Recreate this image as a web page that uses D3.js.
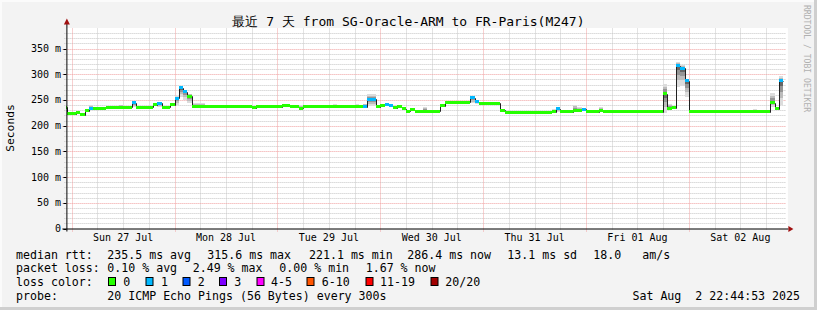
<!DOCTYPE html>
<html><head><meta charset="utf-8">
<script src="https://cdn.jsdelivr.net/npm/d3@7"></script>
<style>
body{margin:0;background:#f3f3f3}
svg{display:block}
text{font-family:"DejaVu Sans Mono",monospace;white-space:pre}
</style>
</head><body>
<svg id="c" width="817" height="310"></svg>
<script>
// ---- data (hours since 2025-07-27 00:00) ----
const chartStart = -1.2481;   // Sat Jul 26 22:44:53
const chartEnd = 166.7519;    // Sat Aug 2 22:44:53
const dataEnd = 166;
const segStart  = [-1.2481,-1,1,2,3,4,5,8,11,12,14,15,19,20,21,23,24,25,26,27,28,31,34,35,42,43,49,51,53,54,55,61,62,66,67,68,69,71,72,73,74,75,76,77,78,79,80,82,83,86,87,91,93,94,95,97,100,101,112,113,114,117,118,119,120,121,123,124,138,139,140,141,142,143,144,147,149,159,160,163,164,165];
const segMedian = [236,223,225,221,229,234,234,236,236,236,245,236,240.5,244,236,240.5,253,274,266,257.5,237,237,237,237,235,237,240,236.5,234,236.5,236.5,236.5,236.5,236.5,236.5,237,251.5,237,240,241,238.5,234.6,236.5,233.4,228.2,230.8,228.2,228.2,228.2,238.5,244.4,245.7,254,247,242.4,243.8,230,226.5,227,233.4,226.9,230.2,230,231.5,228.2,226.9,230,226.9,262,234,234.6,316.4,312,287.5,226.9,226.9,226.9,227,226.9,245,233.4,287];
const segLoss   = [0,0,0,0,0,1,0,0,0,0,1,0,0,1,0,0,1,1,1,0,0,0,0,0,0,0,0,0,0,0,0,0,0,0,0,1,1,0,0,1,1,0,0,0,0,0,0,0,0,0,0,0,1,1,0,0,0,0,0,1,0,0,0,1,0,0,0,0,0,0,0,1,1,1,0,0,0,0,0,0,0,1];
const segSmokeLo= [236,222,224,220,228,232,233,235,235,235,236,235,239,236,235,239,241,255,250,245,236,236,236,236,234,236,238,236,233,236,236,236,236,236,236,236,238,235,239,239,237,233,235,232,227,230,227,227,227,238,244,245,244,243,242,243,229,226,226,227,226,229,229,229,227,226,229,226,225,230,234,276,278,256,226,226,226,226,226,237,231,240];
const segSmokeHi= [236,225,226,223,231,241,235,237,241,237,246,237,242,245,237,242,258,277,270,262,244,238,241,238,236,238,243,238,241,241,237,243,237,243,237,243,261,240,241,242,240,241,240,234,229,232,229,237,229,239,245,246,258,249,243,244,231,227,233,234,227,241,236,233,229,227,236.6,227,282,243,235,324,318,290,227,229,227,233,227,263,236,296];

const yTicks = [0,50,100,150,200,250,300,350];
const yTickLabels = ["0","50 m","100 m","150 m","200 m","250 m","300 m","350 m"];
const dayMidnights = [0,24,48,72,96,120,144];
const dayLabels = ["Sun 27 Jul","Mon 28 Jul","Tue 29 Jul","Wed 30 Jul","Thu 31 Jul","Fri 01 Aug","Sat 02 Aug"];
const lossLegend = ["0","1","2","3","4-5","6-10","11-19","20/20"];
const lossColors = ["#26ff00","#00b8ff","#0059ff","#7e00ff","#ff00ff","#ff5500","#ff0000","#a10000"];
const rttStats = ["235.5 ms avg","315.6 ms max","221.1 ms min","286.4 ms now","13.1 ms sd","18.0","am/s"];
const lossStats = ["0.10 % avg","2.49 % max","0.00 % min","1.67 % now"];
const titleText = "最近 7 天 from SG-Oracle-ARM to FR-Paris(M247)";
const probeText = "20 ICMP Echo Pings (56 Bytes) every 300s";
const stampText = "Sat Aug  2 22:44:53 2025";

// ---- layout ----
const svg = d3.select("#c");
const X0 = 66.4, X1 = 786.4, YB = 228.5, YT = 28.5;
const x = d3.scaleLinear().domain([chartStart, chartEnd]).range([X0, X1]);
const y = d3.scaleLinear().domain([0, 389]).range([YB, YT]);

function lossIdx(l){ if(l<=3) return l; if(l<=5) return 4; if(l<=10) return 5; if(l<=19) return 6; return 7; }

// background + frame
svg.append("rect").attr("width",817).attr("height",310).attr("fill","#f3f3f3");
svg.append("rect").attr("x",0).attr("y",0).attr("width",817).attr("height",2).attr("fill","#fbfbfb");
svg.append("rect").attr("x",0).attr("y",0).attr("width",2).attr("height",310).attr("fill","#fbfbfb");
svg.append("rect").attr("x",814).attr("y",0).attr("width",3).attr("height",310).attr("fill","#cfcfcf");
svg.append("rect").attr("x",0).attr("y",307).attr("width",817).attr("height",3).attr("fill","#cfcfcf");
svg.append("rect").attr("x",X0).attr("y",YT-0.5).attr("width",X1-X0+1.5).attr("height",YB-YT+0.5).attr("fill","#ffffff");

// grid
const g = svg.append("g");
const minorY = d3.range(10, 390, 10).filter(v => v % 50 !== 0);
g.selectAll(".hmin").data(minorY).enter().append("line")
  .attr("x1",X0-2).attr("x2",X1).attr("y1",d=>Math.round(y(d))+0.5).attr("y2",d=>Math.round(y(d))+0.5)
  .attr("stroke","#c6c6c6").attr("stroke-dasharray","1,1");
const minorX = d3.range(-0, 167, 6).filter(h => h % 24 !== 0);
g.selectAll(".vmin").data(minorX).enter().append("line")
  .attr("x1",d=>Math.round(x(d))+0.5).attr("x2",d=>Math.round(x(d))+0.5).attr("y1",YT).attr("y2",YB+2)
  .attr("stroke","#c6c6c6").attr("stroke-dasharray","1,1");
g.selectAll(".hmaj").data(yTicks.slice(1)).enter().append("line")
  .attr("x1",X0-4).attr("x2",X1).attr("y1",d=>Math.round(y(d))+0.5).attr("y2",d=>Math.round(y(d))+0.5)
  .attr("stroke","#f0a0a0").attr("stroke-dasharray","1,1");
g.selectAll(".vmaj").data(dayMidnights).enter().append("line")
  .attr("x1",d=>Math.round(x(d))+0.5).attr("x2",d=>Math.round(x(d))+0.5).attr("y1",YT).attr("y2",YB+3)
  .attr("stroke","#f0a0a0").attr("stroke-dasharray","1,1");

// data
const segs = segStart.map((s,i)=>({s, e: i<segStart.length-1 ? segStart[i+1] : dataEnd,
  m: segMedian[i], l: segLoss[i], lo: segSmokeLo[i], hi: segSmokeHi[i]}));
const dg = svg.append("g");
const layers = [{f:0,c:"#dcdcdc"},{f:0.3,c:"#bcbcbc"},{f:0.55,c:"#959595"},{f:0.8,c:"#666666"}];
layers.forEach(L=>{
  dg.selectAll(null).data(segs.filter(d=>d.hi-d.lo>0)).enter().append("rect")
    .attr("x",d=>x(d.s)).attr("width",d=>x(d.e)-x(d.s))
    .attr("y",d=>y(d.hi-(d.hi-d.m)*L.f))
    .attr("height",d=>Math.max(0,y(d.lo+(d.m-d.lo)*L.f)-y(d.hi-(d.hi-d.m)*L.f)))
    .attr("fill",L.c).attr("shape-rendering","crispEdges");
});
const pts = segs.map(d=>[d.s,d.m]); pts.push([dataEnd, segs[segs.length-1].m]);
dg.append("path").attr("d", d3.line().x(d=>Math.round(x(d[0]))+0.5).y(d=>Math.round(y(d[1]))+0.5).curve(d3.curveStepAfter)(pts))
  .attr("fill","none").attr("stroke","#202020").attr("stroke-width",1);
dg.selectAll(null).data(segs).enter().append("rect")
  .attr("x",d=>x(d.s)).attr("width",d=>x(d.e)-x(d.s))
  .attr("y",d=>y(d.m)-1.5).attr("height",3)
  .attr("fill",d=>lossColors[lossIdx(d.l)]).attr("shape-rendering","crispEdges");

// axes
svg.append("line").attr("x1",X0-4).attr("x2",X1+2).attr("y1",YB+0.5).attr("y2",YB+0.5).attr("stroke","#000");
svg.append("line").attr("x1",X0+0.5).attr("x2",X0+0.5).attr("y1",YB+3).attr("y2",YT-6).attr("stroke","#000");
svg.append("path").attr("d",`M${X1+2},${YB-2.5}L${X1+7},${YB+0.5}L${X1+2},${YB+3.5}Z`).attr("fill","#a01010");
svg.append("path").attr("d",`M${X0-2.5},${YT-4}L${X0+0.5},${YT-10}L${X0+3.5},${YT-4}Z`).attr("fill","#a01010");
svg.selectAll(".ytick").data(yTicks).enter().append("line")
  .attr("x1",X0-3).attr("x2",X0).attr("y1",d=>Math.round(y(d))+0.5).attr("y2",d=>Math.round(y(d))+0.5).attr("stroke","#000");

svg.selectAll(".ylab").data(yTicks).enter().append("text")
  .attr("x",61).attr("y",d=>y(d)+3.5).attr("text-anchor","end").attr("font-size","10px").attr("fill","#000")
  .text((d,i)=>yTickLabels[i]);
svg.selectAll(".xlab").data(dayMidnights).enter().append("text")
  .attr("x",d=>x(d+12)).attr("y",241).attr("text-anchor","middle").attr("font-size","10px").attr("fill","#000")
  .text((d,i)=>dayLabels[i]);

// titles
svg.append("text").attr("x",408.5).attr("y",25.5).attr("text-anchor","middle").attr("font-size","13px").attr("fill","#000").text(titleText);
svg.append("text").attr("transform","translate(14,128) rotate(-90)").attr("text-anchor","middle").attr("font-size","11.3px").attr("fill","#000").text("Seconds");
svg.append("text").attr("transform","translate(804,5) rotate(90)").attr("text-anchor","start").attr("font-size","8.1px").attr("fill","#b0b0b0").text("RRDTOOL / TOBI OETIKER");

// legend
const fs = "11.6px";
const lg = svg.append("g").attr("font-size",fs).attr("fill","#000");
const rttX = [107.3,207.3,309,407.3,507.3,593.3,642.3];
lg.append("text").attr("x",16).attr("y",258.5).text("median rtt:");
rttStats.forEach((t,i)=>lg.append("text").attr("x",rttX[i]).attr("y",258.5).text(t));
const lossX = [107.3,192.7,279.3,365.7];
lg.append("text").attr("x",16).attr("y",272.3).text("packet loss:");
lossStats.forEach((t,i)=>lg.append("text").attr("x",lossX[i]).attr("y",272.3).text(t));
lg.append("text").attr("x",16).attr("y",286.2).text("loss color:");
const boxX = [108.5,146,183,219.5,257,307,366,431];
const labX = [123.3,161,197.7,234.3,271,321.7,380,445.3];
lossLegend.forEach((t,i)=>{
  lg.append("rect").attr("x",boxX[i]).attr("y",277.5).attr("width",7).attr("height",8)
    .attr("fill",lossColors[i]).attr("stroke","#000").attr("stroke-width",1);
  lg.append("text").attr("x",labX[i]).attr("y",286.2).text(t);
});
lg.append("text").attr("x",16).attr("y",300).text("probe:");
lg.append("text").attr("x",107.3).attr("y",300).text(probeText);
lg.append("text").attr("x",800).attr("y",300).attr("text-anchor","end").text(stampText);
</script>
</body></html>
